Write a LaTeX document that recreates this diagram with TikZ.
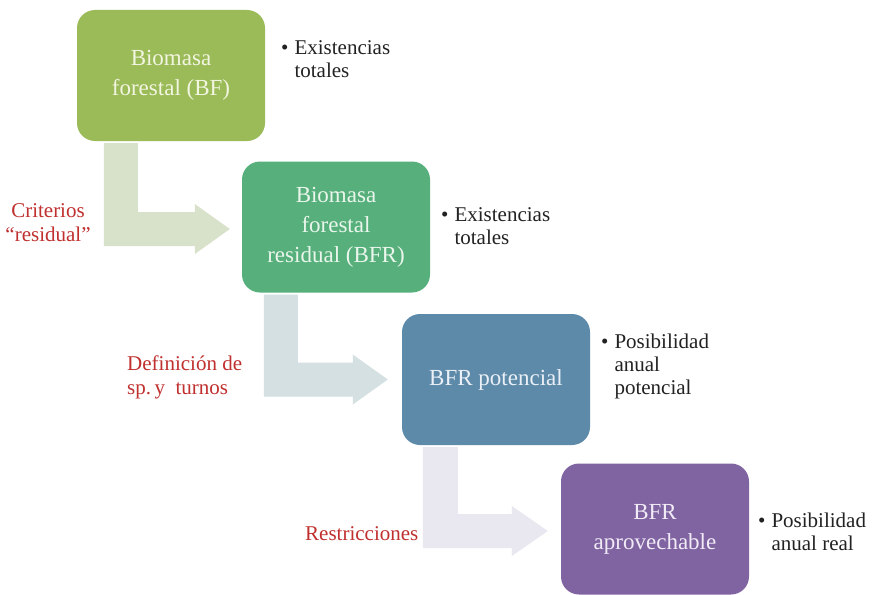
\documentclass[tikz,border=0pt]{standalone}
\usepackage{fontspec}
\setmainfont{Liberation Serif}
\usetikzlibrary{calc}
\definecolor{boxA}{HTML}{9BBB59}
\definecolor{boxB}{HTML}{57B07C}
\definecolor{boxC}{HTML}{5E8AAA}
\definecolor{boxD}{HTML}{8064A2}
\definecolor{txtA}{HTML}{F2F5E0}
\definecolor{txtB}{HTML}{EAF6EC}
\definecolor{txtC}{HTML}{EAF0F6}
\definecolor{txtD}{HTML}{F1EBF6}
\definecolor{arrA}{HTML}{D8E1C9}
\definecolor{arrB}{HTML}{D5E0E2}
\definecolor{arrC}{HTML}{E9E7EF}
\definecolor{redlbl}{HTML}{C0302F}
\definecolor{bultxt}{HTML}{222222}
\begin{document}
\begin{tikzpicture}[x=1pt,y=-1pt,
  stagebox/.style={rounded corners=18pt, minimum width=188pt, minimum height=131pt,
    inner sep=0pt, align=center, font=\fontsize{23}{30}\selectfont},
  bullnote/.style={anchor=west, inner sep=0pt, text=bultxt, font=\fontsize{21}{23}\selectfont},
  rednote/.style={inner sep=0pt, text=redlbl, font=\fontsize{21}{24}\selectfont}]
\useasboundingbox (0,0) rectangle (882,594);
\fill[white] (0,0) rectangle (882,594);

% boxes
\node[stagebox, fill=boxA, text=txtA] (b1) at (171,75.5) {Biomasa\\forestal (BF)};
\node[stagebox, fill=boxB, text=txtB] (b2) at (336,227) {Biomasa\\forestal\\residual (BFR)};
\node[stagebox, fill=boxC, text=txtC] (b3) at (496,379.5) {BFR potencial};
\node[stagebox, fill=boxD, text=txtD] (b4) at (655,529) {BFR\\aprovechable};

% bent block arrows
\coordinate (a1s) at ($(b1.south west)+(27,2)$);
\coordinate (a1t) at ($(b2.west)+(-12,2)$);
\fill[arrA] (a1s) -- ++(34,0) |- ($(a1t)+(-35,-17)$) -- ++(0,-8) -- (a1t)
  -- ++(-35,25) -- ++(0,-8) -| (a1s) -- cycle;
\coordinate (a2s) at ($(b2.south west)+(22,2)$);
\coordinate (a2t) at ($(b3.west)+(-14,0)$);
\fill[arrB] (a2s) -- ++(34,0) |- ($(a2t)+(-35,-17)$) -- ++(0,-8) -- (a2t)
  -- ++(-35,25) -- ++(0,-8) -| (a2s) -- cycle;
\coordinate (a3s) at ($(b3.south west)+(21,2)$);
\coordinate (a3t) at ($(b4.west)+(-13,2)$);
\fill[arrC] (a3s) -- ++(35,0) |- ($(a3t)+(-36,-17)$) -- ++(0,-8) -- (a3t)
  -- ++(-36,25) -- ++(0,-8) -| (a3s) -- cycle;

% red labels
\node[rednote, align=center] (l1) at (48,223) {Criterios\\“residual”};
\node[rednote, align=left, anchor=west] (l2) at (127,377) {Definición de\\sp.\,y~~turnos};
\node[rednote, anchor=west] (l3) at (305,534) {Restricciones};

% bullet notes
\node[bullnote] (n1) at (281,61.5) {\begin{tabular}{@{}l@{\hspace{6pt}}l@{}}•&Existencias\\&totales\end{tabular}};
\node[bullnote] (n2) at (441,228) {\begin{tabular}{@{}l@{\hspace{6pt}}l@{}}•&Existencias\\&totales\end{tabular}};
\node[bullnote] (n3) at (601,367) {\begin{tabular}{@{}l@{\hspace{6pt}}l@{}}•&Posibilidad\\&anual\\&potencial\end{tabular}};
\node[bullnote] (n4) at (758,534) {\begin{tabular}{@{}l@{\hspace{6pt}}l@{}}•&Posibilidad\\&anual real\end{tabular}};
\end{tikzpicture}
\end{document}
